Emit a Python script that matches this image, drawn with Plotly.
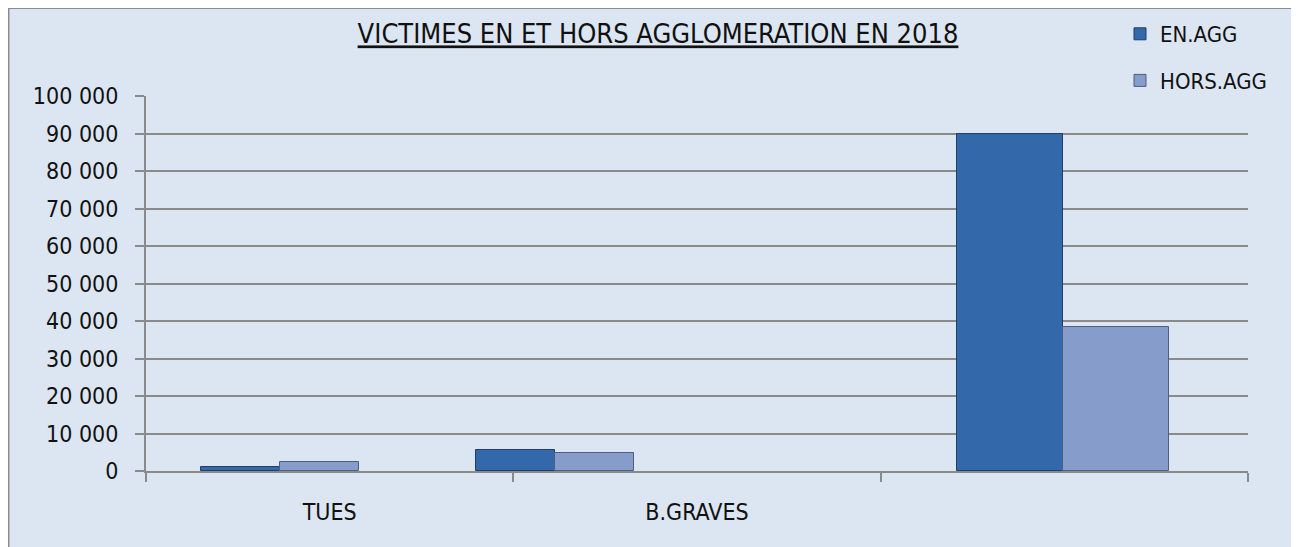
import plotly.graph_objects as go

# ---- data ----
categories = ["TUES", "B.GRAVES", ""]
cat_index = [0, 1, 2]
en_agg = [1200, 5500, 90000]
hors_agg = [2500, 4700, 38500]
y_ticks = [0, 10000, 20000, 30000, 40000, 50000, 60000, 70000, 80000, 90000, 100000]

# ---- styles / placement (figure pixels; page body adds an 8px offset) ----
W, H = 1291, 539
L, R, T, B = 138, 51, 88, 76
bar_w = [0.215, 0.215, 0.289]
en_off = [-0.350, -0.601, -0.2916]
hors_off = [-0.135, -0.386, -0.003]
BG = "#DCE6F2"
GRID = "#8A8A8A"
FONT = "DejaVu Sans Condensed, Liberation Sans, Arial, sans-serif"

fig = go.Figure()
fig.add_trace(go.Bar(
    x=cat_index, y=en_agg, name="EN.AGG", width=bar_w, offset=en_off,
    marker=dict(color="#3369AA", line=dict(color="#1F3F66", width=1)),
    legendgroup="a",
))
fig.add_trace(go.Bar(
    x=cat_index, y=hors_agg, name="HORS.AGG", width=bar_w, offset=hors_off,
    marker=dict(color="#869CCB", line=dict(color="#4E5E7E", width=1)),
    legendgroup="b",
))

pw = W - L - R
ph = H - T - B
def px_x(p):
    return (p - L) / pw
def px_y(p):
    return (H - B - p) / ph

fig.add_shape(type="rect", xref="paper", yref="paper", layer="below",
              x0=px_x(0.5), x1=px_x(1320), y0=px_y(570), y1=px_y(0),
              fillcolor=BG, line=dict(color="#8C8C8C", width=2))

fig.update_layout(
    width=W, height=H,
    margin=dict(l=L, r=R, t=T, b=B, autoexpand=False),
    paper_bgcolor="white", plot_bgcolor="rgba(0,0,0,0)",
    separators=", ",
    font=dict(family=FONT, size=23, color="#111111"),
    title=dict(text="<u>VICTIMES EN ET HORS AGGLOMERATION EN 2018</u>",
               x=px_x(650), xanchor="center", xref="paper",
               y=(H - 26) / H, yanchor="middle",
               font=dict(family=FONT, size=27, color="#111111")),
    showlegend=True,
    legend=dict(x=px_x(1112), y=px_y(5), xanchor="left", yanchor="top",
                bgcolor="rgba(0,0,0,0)", font=dict(size=22),
                traceorder="grouped", tracegroupgap=15,
                itemwidth=30),
    bargap=0,
    xaxis=dict(range=[-0.5, 2.5], tickmode="array", tickvals=cat_index,
               ticktext=categories, ticks="", showgrid=False, zeroline=False,
               showline=True, linecolor=GRID, linewidth=2,
               ticklabelstandoff=19,
               minor=dict(tickmode="array", tickvals=[-0.5, 0.5, 1.5, 2.5],
                          ticks="outside", ticklen=9, tickwidth=2,
                          tickcolor=GRID, showgrid=False)),
    yaxis=dict(range=[0, 100000], tickmode="array", tickvals=y_ticks,
               tickformat=",d", showgrid=True, gridcolor=GRID, gridwidth=1.5,
               zeroline=False, showline=True, linecolor=GRID, linewidth=2,
               ticks="outside", ticklen=9, tickwidth=2, tickcolor=GRID,
               ticklabelstandoff=12),
)

fig.write_html("out.html")
